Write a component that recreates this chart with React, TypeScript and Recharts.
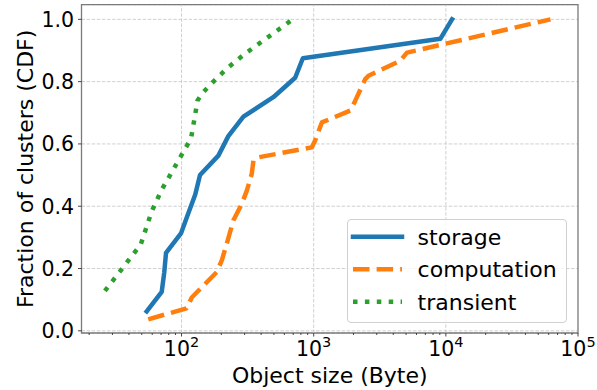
import React from 'react';
import { LineChart, Line, XAxis, YAxis, CartesianGrid, ReferenceLine, ReferenceArea } from 'recharts';

const FONT = '"DejaVu Sans", sans-serif';

const seriesNames = ['storage', 'computation', 'transient'];
const seriesColors = ['#1f77b4', '#ff7f0e', '#2ca02c'];
const seriesDashes = ['', '16.5 7.1', '4.5 7.4'];
const seriesCaps: ('square' | 'butt')[] = ['square', 'butt', 'butt'];

const storageSize = [54.5, 70.8, 74, 76.3, 99, 112, 127, 138, 190, 226, 294, 495, 724, 828, 9080, 11140];
const storageCdf = [0.0625, 0.125, 0.1875, 0.25, 0.3125, 0.375, 0.4375, 0.5, 0.5625, 0.625, 0.6875, 0.75, 0.8125, 0.875, 0.9375, 1.0];

const computationSize = [56, 109, 119.5, 185, 202, 220, 247, 286, 312, 340, 350, 382, 968, 1026, 1153, 1892, 2063, 2455, 2600, 4519, 5080, 61900];
const computationCdf = [0.037, 0.072, 0.107, 0.189, 0.227, 0.28, 0.355, 0.408, 0.45, 0.504, 0.547, 0.557, 0.589, 0.611, 0.669, 0.707, 0.739, 0.808, 0.819, 0.867, 0.893, 1.0];

const transientSize = [26.3, 49.1, 59.4, 70.8, 106.3, 118, 126.6, 132, 143, 164, 220, 303, 695];
const transientCdf = [0.128, 0.277, 0.383, 0.453, 0.584, 0.618, 0.692, 0.739, 0.762, 0.789, 0.842, 0.89, 1.0];

const xMajorTicks = [100, 1000, 10000, 100000];
const xMajorExponents = ['2', '3', '4', '5'];
const xMinorTicks = [
  20, 30, 40, 50, 60, 70, 80, 90,
  200, 300, 400, 500, 600, 700, 800, 900,
  2000, 3000, 4000, 5000, 6000, 7000, 8000, 9000,
  20000, 30000, 40000, 50000, 60000, 70000, 80000, 90000,
];
const yTicks = [0, 0.2, 0.4, 0.6, 0.8, 1.0];
const yTickLabels = ['0.0', '0.2', '0.4', '0.6', '0.8', '1.0'];
const xDomain: [number, number] = [17.5, 100000];
const yDomain: [number, number] = [-0.007, 1.047];

const toPoints = (xs: number[], ys: number[]) => xs.map((x, i) => ({ x, y: ys[i] }));
const seriesData = [
  toPoints(storageSize, storageCdf),
  toPoints(computationSize, computationCdf),
  toPoints(transientSize, transientCdf),
];

const GRID = '#c4c4c4';
const SPINE = '#7a7a7a';

const XTick = (props: any) => {
  const { x, y, payload } = props;
  const idx = xMajorTicks.indexOf(payload.value);
  const major = idx >= 0;
  return (
    <g>
      <line x1={x} y1={y} x2={x} y2={y + (major ? 3.5 : 2)} stroke="#333" strokeWidth={0.9} />
      {major && (
        <text x={x} y={y + 22.5} textAnchor="middle" fontSize={20.5} fontFamily={FONT} fill="#000">
          <tspan>10</tspan>
          <tspan dy={-8.5} fontSize={14.5}>{xMajorExponents[idx]}</tspan>
        </text>
      )}
    </g>
  );
};

const YTick = (props: any) => {
  const { x, y, payload } = props;
  const idx = yTicks.indexOf(payload.value);
  return (
    <g>
      <line x1={x - 3.5} y1={y} x2={x} y2={y} stroke="#333" strokeWidth={0.9} />
      <text x={x - 7.5} y={y + 7.3} textAnchor="end" fontSize={20.5} fontFamily={FONT} fill="#000">
        {yTickLabels[idx]}
      </text>
    </g>
  );
};

const LegendBox = () => (
  <div
    style={{
      position: 'absolute',
      left: 346.7,
      top: 219,
      width: 220.3,
      height: 104,
      boxSizing: 'border-box',
      border: '1px solid #d0d0d0',
      borderRadius: 4,
      background: 'rgba(255,255,255,0.8)',
    }}
  >
    <svg width={220} height={104} style={{ position: 'absolute', left: -1, top: -1 }}>
      {seriesNames.map((name, i) => {
        const cy = 17.7 + i * 32.5;
        return (
          <g key={name}>
            <line
              x1={6}
              y1={cy}
              x2={55}
              y2={cy}
              stroke={seriesColors[i]}
              strokeWidth={4.5}
              strokeDasharray={seriesDashes[i] || undefined}
              strokeLinecap={seriesCaps[i]}
            />
            <text x={70.6} y={cy + 8} fontSize={22} fontFamily={FONT} fill="#000">
              {name}
            </text>
          </g>
        );
      })}
    </svg>
  </div>
);

export default function App() {
  return (
    <div style={{ position: 'absolute', left: 0, top: 0, width: 597, height: 390, background: '#fff' }}>
      <LineChart width={597} height={390} margin={{ top: 4.7, right: 19, left: 0, bottom: 0 }} style={{ fontFamily: FONT }}>
        <CartesianGrid vertical={false} stroke={GRID} strokeDasharray="3.5 1.6" strokeWidth={0.8} />
        {xMajorTicks.slice(0, 3).map((v) => (
          <ReferenceLine key={v} x={v} stroke={GRID} strokeDasharray="3.5 1.6" strokeWidth={0.8} />
        ))}
        <XAxis
          dataKey="x"
          type="number"
          scale="log"
          domain={xDomain}
          allowDataOverflow
          ticks={[...xMinorTicks, ...xMajorTicks]}
          interval={0}
          tick={<XTick />}
          tickLine={false}
          tickSize={0}
          tickMargin={0}
          axisLine={false}
          height={57}
          label={{ value: 'Object size (Byte)', position: 'insideBottom', offset: 7, fontSize: 22, fill: '#000', fontFamily: FONT }}
        />
        <YAxis
          type="number"
          domain={yDomain}
          allowDataOverflow
          ticks={yTicks}
          interval={0}
          tick={<YTick />}
          tickLine={false}
          tickSize={0}
          tickMargin={0}
          axisLine={false}
          width={81.5}
          label={{
            value: 'Fraction of clusters (CDF)',
            angle: -90,
            position: 'insideLeft',
            offset: 25,
            fontSize: 22,
            fill: '#000',
            fontFamily: FONT,
            style: { textAnchor: 'middle' },
          }}
        />
        {seriesData.map((d, i) => (
          <Line
            key={seriesNames[i]}
            data={d}
            dataKey="y"
            name={seriesNames[i]}
            type="linear"
            stroke={seriesColors[i]}
            strokeWidth={4.5}
            strokeDasharray={seriesDashes[i] || undefined}
            strokeLinecap={seriesCaps[i]}
            strokeLinejoin="round"
            dot={false}
            activeDot={false}
            isAnimationActive={false}
          />
        ))}
        <ReferenceArea
          x1={xDomain[0]}
          x2={xDomain[1]}
          y1={yDomain[0]}
          y2={yDomain[1]}
          fill="none"
          stroke={SPINE}
          strokeWidth={1.3}
          ifOverflow="visible"
        />
      </LineChart>
      <LegendBox />
    </div>
  );
}
